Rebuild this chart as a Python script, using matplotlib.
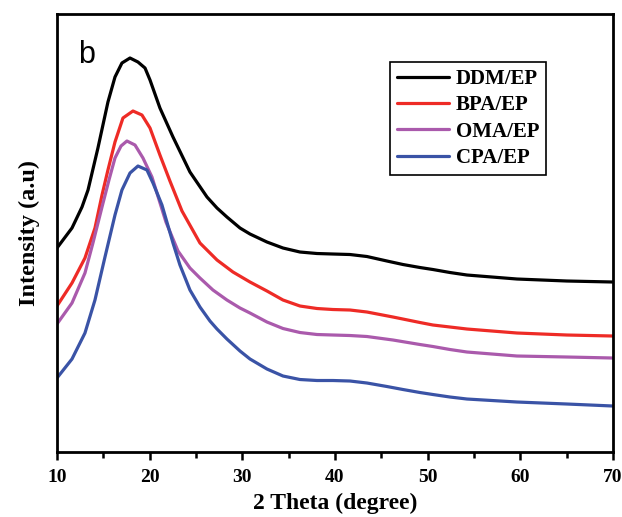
import matplotlib
matplotlib.use("Agg")
import matplotlib.pyplot as plt
from matplotlib.ticker import MultipleLocator

# ---- Data ----
ddm_x = [10.0, 11.62, 12.70, 13.35, 14.42, 15.50, 16.26, 17.01, 17.88, 18.74,
         19.50, 20.04, 21.11, 22.52, 24.35, 26.19, 27.27, 28.34, 29.75, 30.83,
         32.66, 34.39, 36.22, 38.06, 39.78, 41.62, 43.45, 45.61, 47.34, 49.17,
         50.57, 52.41, 54.24, 56.94, 59.64, 62.34, 65.03, 67.52, 70.0]
ddm_y = [206, 226, 247, 264, 306, 352, 377, 391, 396, 392,
         386, 374, 346, 317, 282, 257, 246, 237, 226, 220,
         212, 206, 202, 200.5, 200, 199.5, 197.5, 193, 189.5, 186.5,
         184.5, 181.5, 179, 177, 175, 174, 173, 172.5, 172]

bpa_x = [10.0, 11.62, 13.02, 14.10, 14.86, 15.50, 16.26, 17.12, 18.20, 19.17,
         20.04, 21.11, 22.19, 23.49, 25.43, 27.27, 28.99, 30.83, 32.66, 34.39,
         36.22, 38.06, 39.78, 41.62, 43.45, 46.26, 49.17, 50.57, 52.41, 54.24,
         56.94, 59.64, 62.34, 65.03, 67.52, 70.0]
bpa_y = [148, 171, 196, 226, 259, 284, 312, 336, 343, 339,
         326, 299, 273, 243, 211, 194, 182, 172, 163, 154,
         148, 145.5, 144.5, 144, 142, 137, 131.5, 129, 127, 125,
         123, 121, 120, 119, 118.5, 118]

oma_x = [10.0, 11.62, 13.02, 13.88, 14.86, 15.61, 16.26, 16.91, 17.55, 18.42,
         19.28, 20.25, 21.76, 23.06, 24.35, 25.43, 26.83, 28.34, 29.75, 30.83,
         32.66, 34.39, 36.22, 38.06, 39.78, 41.62, 43.45, 46.26, 49.17, 50.57,
         52.41, 54.24, 56.94, 59.64, 62.34, 65.03, 67.52, 70.0]
oma_y = [130, 151, 181, 211, 247, 274, 296, 308, 313, 309,
         296, 277, 232, 203, 186, 176, 164, 154, 146, 141,
         132, 125.5, 121.5, 119.5, 119, 118.5, 117.5, 114, 109.5, 107.5,
         104.5, 102, 100, 98, 97.5, 97, 96.5, 96]

cpa_x = [10.0, 11.62, 13.02, 14.10, 15.18, 16.26, 17.01, 17.88, 18.74, 19.71,
         20.36, 21.33, 22.52, 23.27, 24.35, 25.43, 26.51, 27.27, 28.34, 29.75,
         30.83, 32.66, 34.39, 36.22, 38.06, 39.78, 41.62, 43.45, 45.61, 47.34,
         49.17, 50.57, 52.41, 54.24, 56.94, 59.64, 62.34, 65.03, 67.52, 70.0]
cpa_y = [76, 95, 121, 154, 197, 239, 264, 281, 288, 284,
         271, 249, 211, 189, 164, 147, 133, 125, 115, 103,
         95, 85, 78, 74.5, 73.5, 73.5, 73, 71, 67.5, 64.5,
         61.5, 59.5, 57, 55, 53.5, 52, 51, 50, 49, 48]

labels = ["DDM/EP", "BPA/EP", "OMA/EP", "CPA/EP"]
colors = ["#000000", "#ee2b26", "#aa5aac", "#3a53a6"]
x_ticks = [10, 20, 30, 40, 50, 60, 70]

serif = ["Liberation Serif", "DejaVu Serif"]

fig = plt.figure(figsize=(6.22, 5.17), dpi=100)
ax = fig.add_axes([0.0916, 0.1257, 0.8939, 0.8472])

series = [(ddm_x, ddm_y), (bpa_x, bpa_y), (oma_x, oma_y), (cpa_x, cpa_y)]
for (xs, ys), lab, c in zip(series, labels, colors):
    ax.plot(xs, ys, color=c, lw=2.3, label=lab,
            solid_capstyle="round", solid_joinstyle="round")

ax.set_xlim(10, 70)
ax.set_ylim(2, 440)
ax.set_xticks(x_ticks)
ax.xaxis.set_minor_locator(MultipleLocator(5))
ax.set_yticks([])
ax.tick_params(axis="x", which="major", direction="out", length=6, width=1.8, pad=6)
ax.tick_params(axis="x", which="minor", direction="out", length=4, width=1.8)
for lbl in ax.get_xticklabels():
    lbl.set_fontfamily(serif)
    lbl.set_fontweight("bold")
    lbl.set_fontsize(14)
for sp in ax.spines.values():
    sp.set_linewidth(2)

ax.set_xlabel("2 Theta (degree)", fontfamily=serif, fontweight="bold", fontsize=17, labelpad=5)
ax.set_ylabel("Intensity (a.u)", fontfamily=serif, fontweight="bold", fontsize=17.5, labelpad=12)

ax.text(0.038, 0.889, "b", transform=ax.transAxes, fontsize=22,
        family=["Liberation Sans", "DejaVu Sans"])

leg = ax.legend(loc="upper left", bbox_to_anchor=(0.599, 0.891), borderaxespad=0,
                prop={"family": serif, "weight": "bold", "size": 15},
                fancybox=False, edgecolor="black", framealpha=1,
                handlelength=2.5, handletextpad=0.3, labelspacing=0.3,
                borderpad=0.35)
leg.get_frame().set_linewidth(1.2)
for h in leg.get_lines():
    h.set_linewidth(2.3)

fig.savefig("out.png", dpi=100)
